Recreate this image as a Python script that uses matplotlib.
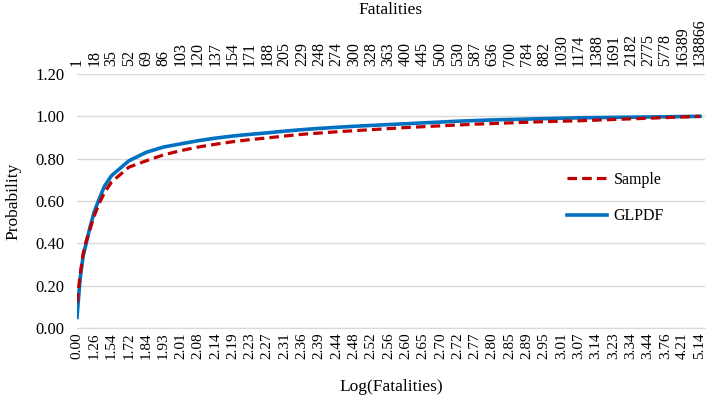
import matplotlib
matplotlib.use("Agg")
import matplotlib.pyplot as plt

plt.rcParams['font.family'] = ['Liberation Serif', 'DejaVu Serif']

# Category axis: every 17th category is labelled
log_labels = ["0.00", "1.26", "1.54", "1.72", "1.84", "1.93", "2.01", "2.08", "2.14", "2.19",
              "2.23", "2.27", "2.31", "2.36", "2.39", "2.44", "2.48", "2.52", "2.56", "2.60",
              "2.65", "2.70", "2.72", "2.77", "2.80", "2.85", "2.89", "2.95", "3.01", "3.07",
              "3.14", "3.23", "3.34", "3.44", "3.76", "4.21", "5.14"]
fatality_labels = ["1", "18", "35", "52", "69", "86", "103", "120", "137", "154", "171", "188",
                   "205", "229", "248", "274", "300", "328", "363", "400", "445", "500", "530",
                   "587", "636", "700", "784", "882", "1030", "1174", "1388", "1691", "2182",
                   "2775", "5778", "16389", "138866"]
label_step = 17

# category index of each read point and the probabilities read there
cat_index = [0, 3, 6, 9, 13, 17, 21, 27, 34, 51, 68, 85, 102, 119, 136, 153, 170, 187, 204,
             221, 238, 255, 272, 289, 306, 323, 340, 357, 374, 391, 408, 425, 442, 459, 476,
             493, 510, 527, 544, 561, 578, 595, 612]
sample = [0.12, 0.25, 0.35, 0.41, 0.47, 0.53, 0.58, 0.64, 0.69, 0.76, 0.79, 0.818, 0.838,
          0.855, 0.868, 0.880, 0.890, 0.898, 0.907, 0.915, 0.921, 0.927, 0.932, 0.937, 0.942,
          0.947, 0.951, 0.955, 0.959, 0.963, 0.966, 0.969, 0.972, 0.975, 0.977, 0.979, 0.982,
          0.985, 0.988, 0.991, 0.994, 0.997, 1.000]
glpdf = [0.05, 0.23, 0.34, 0.40, 0.48, 0.55, 0.60, 0.67, 0.72, 0.79, 0.83, 0.855, 0.870,
         0.885, 0.897, 0.907, 0.915, 0.922, 0.930, 0.937, 0.943, 0.948, 0.953, 0.957, 0.961,
         0.965, 0.969, 0.973, 0.977, 0.980, 0.983, 0.985, 0.987, 0.989, 0.991, 0.993, 0.994,
         0.995, 0.996, 0.997, 0.998, 0.999, 1.000]

y_ticks = [0.0, 0.2, 0.4, 0.6, 0.8, 1.0, 1.2]

fig = plt.figure(figsize=(7.09, 4.01), dpi=100)
ax = fig.add_axes([77/709, 1-328/401, (705-77)/709, (328-74)/401])

ax.plot(cat_index, sample, color='#C00000', lw=2.3, ls=(0, (3, 1.6)), label='Sample',
        zorder=3, solid_joinstyle='round')
ax.plot(cat_index, glpdf, color='#0070C0', lw=2.6, label='GLPDF', zorder=2,
        solid_joinstyle='round')

n_lab = len(log_labels)
tick_pos = [i * label_step for i in range(n_lab)]
xmax = tick_pos[-1] + 5 * tick_pos[-1] / 623
ax.set_xlim(0, xmax)
ax.set_ylim(0, 1.2)
ax.set_yticks(y_ticks)
ax.set_yticklabels([f"{v:.2f}" for v in y_ticks], fontsize=12)
ax.set_xticks(tick_pos)
ax.set_xticklabels(log_labels, rotation=90, fontsize=11)
ax.tick_params(axis='both', length=0)
ax.tick_params(axis='x', pad=3)
ax.tick_params(axis='y', pad=9)
ax.grid(axis='y', color='#d9d9d9', lw=1)
for s in ['left', 'right', 'top']:
    ax.spines[s].set_visible(False)
ax.spines['bottom'].set_color('#d9d9d9')

ax2 = ax.twiny()
ax2.set_xlim(ax.get_xlim())
ax2.set_xticks(tick_pos)
ax2.set_xticklabels(fatality_labels, rotation=90, fontsize=11.5)
ax2.tick_params(axis='x', length=0, pad=6)
for s in ['left', 'right', 'top', 'bottom']:
    ax2.spines[s].set_visible(False)

fig.text(391/709, 1-10/401, "Fatalities", ha='center', va='center', fontsize=12.5)
fig.text(391/709, 1-387/401, "Log(Fatalities)", ha='center', va='center', fontsize=12.5)
fig.text(13/709, 1-201/401, "Probability", ha='center', va='center', rotation=90, fontsize=12.5)

ax.legend(loc='center left', bbox_to_anchor=((553-77)/(705-77), (328-198)/(328-74)),
          frameon=False, fontsize=11.5, handlelength=2.5, labelspacing=1.3, handletextpad=0.4)

fig.savefig("out.png", dpi=100)
